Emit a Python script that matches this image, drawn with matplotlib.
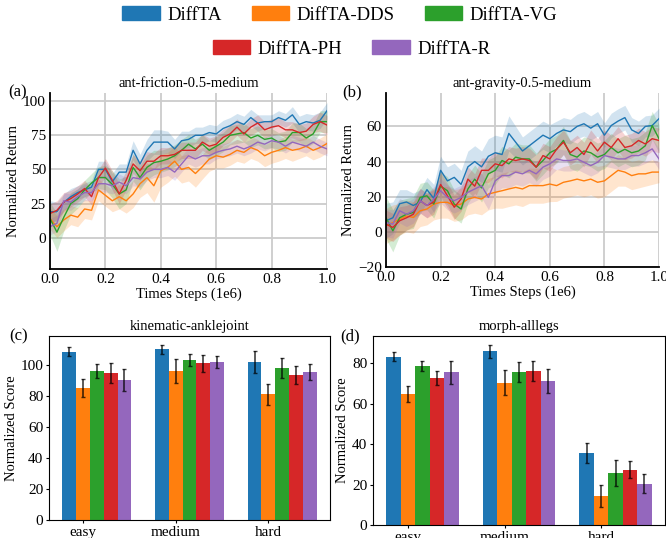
import matplotlib
matplotlib.use("Agg")
import matplotlib.pyplot as plt
import matplotlib.patches as mpatches
import numpy as np

plt.rcParams['font.family'] = 'serif'
plt.rcParams['font.serif'] = ['Liberation Serif', 'DejaVu Serif']

methods = ['DiffTA', 'DiffTA-DDS', 'DiffTA-VG', 'DiffTA-PH', 'DiffTA-R']
colors = ['#1f77b4', '#ff7f0e', '#2ca02c', '#d62728', '#9467bd']

# training curves, sampled every 0.025e6 steps
steps = np.linspace(0, 1, 41)

# ant-friction-0.5-medium
fric_mean = {
    'DiffTA': [19, 19, 26, 30, 33, 35, 37, 50, 50, 41, 48, 48, 64, 54, 64, 70, 70, 70, 65, 71, 72,
               75, 75, 77, 76, 80, 82, 85, 83, 88, 84, 85, 85, 88, 86, 90, 83, 85, 84, 86, 93],
    'DiffTA-DDS': [14, 8, 13, 16.5, 15, 21, 20, 35, 31, 27, 30, 27, 32, 39.5, 44, 38, 49, 51.5, 56, 50, 51.5,
                   47, 52, 57.6, 60, 59, 61, 64, 62.5, 66, 64, 60, 62.5, 64, 66, 64, 65, 67, 64, 66, 69],
    'DiffTA-VG': [14, 4, 15, 25, 28.6, 35, 40, 44, 44, 39, 32, 35, 51.5, 44, 51.5, 55, 56, 57.6, 60, 64, 68.5,
                  65, 68.5, 64, 67, 70, 75, 76, 77, 73, 75, 72, 73, 70, 71, 77, 77, 73, 76, 85, 85],
    'DiffTA-PH': [17.7, 20, 26, 28.6, 32, 36, 30, 44, 51, 42, 32, 42, 54, 49, 56, 56, 60, 60, 61, 64, 64,
                  64, 70, 67, 68.5, 73.5, 76, 81, 76, 81, 84, 79, 81, 82, 79, 79, 77, 78, 83, 85, 82.5],
    'DiffTA-R': [8, 10.5, 27, 26, 30, 33, 33, 39.5, 39.5, 38, 40.7, 38, 44, 43, 48, 50, 50, 51.5, 48, 54, 60,
                 57.6, 60, 60, 62.5, 64, 65, 67, 65, 67, 70, 68.5, 71, 70, 67, 70, 68.5, 67, 70, 67, 65],
}
fric_std = {
    'DiffTA': [8, 7, 6, 6, 5, 5, 5, 6, 6, 6, 6, 6, 7, 7, 8, 9, 9, 8, 7, 7, 6,
               6, 6, 6, 6, 6, 6, 6, 6, 6, 6, 5, 5, 5, 5, 6, 6, 6, 6, 6, 6],
    'DiffTA-DDS': [8, 8, 8, 7, 7, 7, 7, 8, 8, 8, 9, 9, 10, 10, 11, 12, 12, 11, 11, 10, 10,
                   10, 9, 9, 9, 8, 8, 8, 8, 8, 8, 8, 8, 8, 8, 8, 7, 7, 7, 7, 7],
    'DiffTA-VG': [12, 14, 10, 8, 7, 7, 7, 8, 9, 10, 11, 10, 10, 9, 9, 9, 8, 8, 8, 8, 7,
                  7, 7, 7, 7, 7, 7, 7, 7, 7, 7, 7, 7, 7, 7, 7, 7, 7, 7, 8, 8],
    'DiffTA-PH': [7, 7, 7, 6, 6, 6, 6, 6, 7, 7, 7, 7, 7, 7, 7, 6, 6, 6, 6, 6, 6,
                  6, 6, 6, 6, 6, 6, 6, 6, 6, 6, 6, 6, 6, 6, 6, 6, 6, 6, 7, 7],
    'DiffTA-R': [6, 6, 6, 6, 6, 6, 6, 6, 6, 6, 6, 6, 6, 6, 6, 6, 6, 6, 6, 6, 6,
                 6, 6, 6, 5, 5, 5, 5, 5, 5, 5, 5, 5, 5, 5, 5, 5, 5, 5, 5, 5],
}

# ant-gravity-0.5-medium
grav_mean = {
    'DiffTA': [6.3, 8, 16, 17, 15, 17, 24, 19, 35, 29, 31, 27, 37, 40, 37, 43, 45, 44, 56, 51, 46,
               49, 52, 55, 53, 56, 58, 57, 60, 61.5, 59, 61.5, 55, 60.5, 63, 65, 58, 56, 60, 60.5, 64.4],
    'DiffTA-DDS': [3.4, 5.3, 7.2, 9, 8.2, 12, 13, 15.8, 16.8, 16.8, 15, 15.8, 18.7, 19.6, 18.7, 21.5, 22.5,
                   23.4, 24.4, 25.3, 24.4, 26.3, 26.3, 26.3, 27.2, 26.3, 28.2, 29, 30, 29, 30, 28.2, 29,
                   32, 35, 34, 32, 33, 33, 34, 34],
    'DiffTA-VG': [8, 0.6, 8, 10, 11, 19.6, 20.5, 15.8, 26, 23.4, 15.8, 13, 24.4, 30, 25, 33, 35, 40.6, 38.7,
                  42.5, 41.5, 41.5, 36.8, 40.6, 45, 47, 52, 44, 42.5, 46, 45, 42.5, 44, 48, 45, 47, 45,
                  46, 49, 60.5, 53],
    'DiffTA-PH': [4.4, 2.5, 6.3, 8, 10, 17.7, 15, 17, 27, 20.5, 14, 18.7, 30, 26, 35, 35, 38.7, 37.7, 41.5,
                  40.6, 41.5, 40.6, 36.8, 43.4, 41.5, 47, 51, 45, 48, 44, 51, 46, 51, 48, 53, 48, 49,
                  52, 50, 53, 52],
    'DiffTA-R': [5.3, 4.4, 12, 10, 12, 17.7, 15, 18.7, 23.4, 19.6, 17.7, 19.6, 22.5, 24.4, 26.3, 19.6, 29,
                 32, 32, 34, 33, 35, 33, 36.8, 38.7, 41.5, 40.6, 40.6, 41.5, 39.6, 37.7, 39.6, 43.4,
                 42.5, 41.5, 41.5, 43.4, 43.4, 45, 47.2, 41.5],
}
grav_std = {
    'DiffTA': [10, 9, 8, 7, 7, 7, 7, 8, 8, 8, 8, 8, 9, 9, 9, 10, 10, 10, 10, 9, 8,
               8, 8, 8, 8, 7, 7, 7, 7, 7, 7, 7, 7, 7, 7, 7, 7, 7, 6, 6, 6],
    'DiffTA-DDS': [10, 10, 9, 9, 9, 9, 9, 9, 9, 9, 9, 9, 9, 9, 9, 9, 9, 10, 10, 10, 10,
                   10, 10, 10, 10, 9, 9, 9, 9, 9, 9, 9, 9, 9, 9, 8, 8, 8, 7, 7, 6],
    'DiffTA-VG': [12, 12, 10, 9, 9, 8, 8, 8, 8, 8, 8, 8, 8, 8, 8, 8, 8, 8, 8, 8, 8,
                  8, 8, 8, 8, 8, 8, 8, 8, 8, 8, 8, 8, 8, 8, 8, 8, 8, 8, 8, 8],
    'DiffTA-PH': [8, 8, 8, 7, 7, 7, 7, 7, 7, 7, 7, 7, 7, 7, 7, 7, 7, 7, 7, 7, 7,
                  7, 7, 7, 7, 7, 7, 7, 7, 7, 7, 7, 7, 7, 7, 7, 7, 7, 7, 7, 7],
    'DiffTA-R': [8, 8, 7, 7, 7, 7, 7, 7, 7, 7, 7, 7, 7, 7, 7, 7, 7, 7, 7, 7, 7,
                 7, 7, 7, 7, 6, 6, 6, 6, 6, 6, 6, 6, 6, 6, 6, 6, 6, 6, 6, 6],
}

# bar charts
levels = ['easy', 'medium', 'hard']
kin_mean = {
    'DiffTA': [108.5, 110, 102],
    'DiffTA-DDS': [85, 96, 81],
    'DiffTA-VG': [96, 103, 98],
    'DiffTA-PH': [95, 101, 93.5],
    'DiffTA-R': [90.5, 102, 95.5],
}
kin_err = {
    'DiffTA': [3, 3, 7],
    'DiffTA-DDS': [6, 7.5, 7],
    'DiffTA-VG': [4.5, 4, 6.5],
    'DiffTA-PH': [6.5, 5.5, 6],
    'DiffTA-R': [7, 4, 5],
}
morph_mean = {
    'DiffTA': [83.3, 85.8, 35.5],
    'DiffTA-DDS': [64.7, 70.3, 14.3],
    'DiffTA-VG': [78.8, 75.5, 25.7],
    'DiffTA-PH': [72.8, 76.3, 27.3],
    'DiffTA-R': [75.5, 71.3, 20.5],
}
morph_err = {
    'DiffTA': [2.3, 3.2, 4.8],
    'DiffTA-DDS': [4, 6.2, 5.3],
    'DiffTA-VG': [2.5, 4.9, 6.5],
    'DiffTA-PH': [3.5, 4.9, 4.2],
    'DiffTA-R': [5.8, 5.8, 4.5],
}

W, H = 666, 538
fig = plt.figure(figsize=(W / 100, H / 100), dpi=100)


def px_axes(left, top, right, bottom):
    return fig.add_axes([left / W, 1 - bottom / H, (right - left) / W, (bottom - top) / H])


def line_panel(ax, means, stds, title, ylim, yticks):
    for m, c in zip(methods, colors):
        mu = np.array(means[m])
        sd = np.array(stds[m])
        ax.fill_between(steps, mu - sd, mu + sd, color=c, alpha=0.2, linewidth=0)
        ax.plot(steps, mu, color=c, linewidth=1.0)
    ax.set_xlim(0, 1)
    ax.set_ylim(*ylim)
    ax.set_xticks([0, 0.2, 0.4, 0.6, 0.8, 1.0])
    ax.set_yticks(yticks)
    ax.grid(True, color='#cccccc', linewidth=1.3)
    ax.set_axisbelow(True)
    for s in ['top', 'right']:
        ax.spines[s].set_visible(False)
    for s in ['left', 'bottom']:
        ax.spines[s].set_linewidth(1.3)
    ax.tick_params(length=0, labelsize=11, pad=3)
    ax.set_title(title, fontsize=10.5, pad=4)
    ax.set_xlabel('Times Steps (1e6)', fontsize=10.5, labelpad=1)
    ax.set_ylabel('Normalized Return', fontsize=10.5, labelpad=2)


def bar_panel(ax, means, errs, title):
    x = np.arange(len(levels))
    w = 0.15
    for i, (m, c) in enumerate(zip(methods, colors)):
        ax.bar(x + (i - 1) * w, means[m], w, yerr=errs[m], color=c,
               error_kw=dict(ecolor='black', elinewidth=1.2, capsize=1.5, alpha=0.75))
    ax.set_xticks(x)
    ax.set_xticklabels(levels)
    ax.tick_params(length=2, labelsize=11, pad=2)
    ax.set_title(title, fontsize=10.5, pad=4)
    ax.set_ylabel('Normalized Score', fontsize=10.5, labelpad=2)


ax_a = px_axes(50, 93, 327, 269)
line_panel(ax_a, fric_mean, fric_std, 'ant-friction-0.5-medium', (-23, 106), [0, 25, 50, 75, 100])

ax_b = px_axes(386, 93, 659, 267)
line_panel(ax_b, grav_mean, grav_std, 'ant-gravity-0.5-medium', (-20, 79), [-20, 0, 20, 40, 60])

ax_c = px_axes(49, 336, 330, 520)
bar_panel(ax_c, kin_mean, kin_err, 'kinematic-anklejoint')
ax_c.set_yticks([0, 20, 40, 60, 80, 100])

ax_d = px_axes(373, 336, 665, 525)
bar_panel(ax_d, morph_mean, morph_err, 'morph-alllegs')
ax_d.set_yticks([0, 20, 40, 60, 80])

for lbl, xp, yp in [('(a)', 8, 92), ('(b)', 342, 92), ('(c)', 9, 336), ('(d)', 340, 336)]:
    fig.text(xp / W, 1 - yp / H, lbl, fontsize=12, va='center', ha='left')

handles = [mpatches.Patch(color=c, label=m) for m, c in zip(methods, colors)]
fig.legend(handles=handles[:3], loc='center', bbox_to_anchor=(0.51, 1 - 15 / H), ncol=3,
           frameon=False, fontsize=13.5, handlelength=2.0, handletextpad=0.4, columnspacing=1.6)
fig.legend(handles=handles[3:], loc='center', bbox_to_anchor=(0.528, 1 - 49 / H), ncol=2,
           frameon=False, fontsize=13.5, handlelength=2.0, handletextpad=0.4, columnspacing=1.6)

fig.savefig('out.png', dpi=100)
